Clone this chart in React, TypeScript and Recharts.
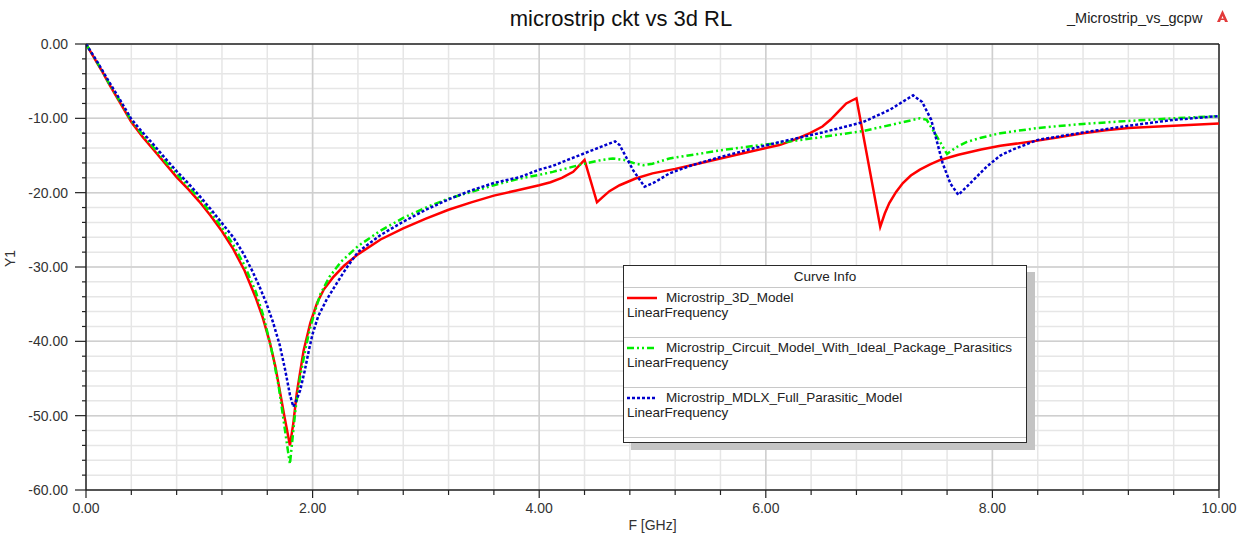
import { CartesianGrid, Line, LineChart, ReferenceLine, XAxis, YAxis } from "recharts";

// F [GHz] / dB points, one pair of arrays per curve
const model3dFreq = [
  0, 0.05, 0.1, 0.15, 0.2, 0.3, 0.4, 0.5, 0.6, 0.7, 0.8, 0.9, 1.0, 1.1, 1.2, 1.3, 1.4, 1.5, 1.56, 1.62, 1.67,
  1.71, 1.75, 1.8, 1.83, 1.86, 1.92, 1.98, 2.04, 2.1, 2.18, 2.28, 2.4, 2.6, 2.8, 3.0, 3.2, 3.4, 3.6, 3.8, 4.0,
  4.1, 4.2, 4.3, 4.4, 4.51, 4.56, 4.62, 4.71, 4.85, 5.0, 5.2, 5.4, 5.6, 5.8, 6.0, 6.12, 6.25, 6.39, 6.5,
  6.57, 6.64, 6.71, 6.76, 6.8, 7.01, 7.05, 7.09, 7.15, 7.21, 7.28, 7.36, 7.45, 7.54, 7.7, 7.9, 8.07, 8.4,
  8.6, 8.8, 9.0, 9.2, 9.6, 10,
];
const model3dDb = [
  0, -1.3, -2.6, -3.9, -5.3, -7.9, -10.5, -12.5, -14.3, -16.1, -17.9, -19.5, -21.2, -23.1, -25.2, -27.6,
  -30.5, -34.2, -36.8, -40.0, -43.3, -46.6, -50.0, -54.0, -51.0, -47.0, -41.3, -37.5, -34.8, -33.0, -31.4,
  -29.8, -28.3, -26.3, -24.8, -23.5, -22.3, -21.3, -20.4, -19.7, -19.0, -18.6, -18.0, -17.2, -15.6, -21.3,
  -20.6, -19.8, -19.0, -18.1, -17.4, -16.8, -16.1, -15.4, -14.7, -14.0, -13.6, -12.9, -12.0, -11.1, -10.2,
  -9.1, -8.0, -7.6, -7.3, -24.6, -22.8, -21.4, -19.9, -18.7, -17.7, -16.9, -16.2, -15.6, -14.9, -14.2,
  -13.7, -13.0, -12.5, -12.0, -11.6, -11.3, -11.0, -10.7,
];

const circuitFreq = [
  0, 0.1, 0.2, 0.3, 0.4, 0.5, 0.6, 0.7, 0.8, 0.9, 1.0, 1.1, 1.2, 1.3, 1.4, 1.5, 1.57, 1.64, 1.7, 1.74, 1.78,
  1.8, 1.82, 1.85, 1.89, 1.94, 1.98, 2.03, 2.07, 2.15, 2.25, 2.4, 2.6, 2.8, 3.0, 3.2, 3.4, 3.6, 3.83, 4.0,
  4.12, 4.3, 4.4, 4.55, 4.65, 4.75, 4.85, 4.92, 5.0, 5.15, 5.4, 5.6, 5.9, 6.12, 6.5, 6.86, 7.1, 7.3, 7.36,
  7.42, 7.5, 7.6, 7.68, 7.77, 7.9, 8.07, 8.4, 8.8, 9.2, 9.6, 10,
];
const circuitDb = [
  0, -2.5, -5.2, -7.7, -10.3, -12.2, -14.0, -15.8, -17.5, -19.1, -20.8, -22.7, -24.7, -27.0, -29.8, -33.4,
  -36.8, -41.3, -46.0, -50.2, -54.5, -56.5, -53.5, -49.0, -44.8, -40.8, -38.1, -35.5, -33.6, -31.3, -29.3,
  -27.2, -25.1, -23.4, -22.0, -20.8, -19.9, -19.0, -18.1, -17.6, -17.2, -16.5, -16.1, -15.6, -15.4, -15.6,
  -16.1, -16.3, -16.1, -15.4, -14.8, -14.3, -13.7, -13.3, -12.5, -11.7, -10.9, -10.2, -10.0, -10.2, -12.2,
  -14.8, -13.9, -13.2, -12.6, -12.0, -11.3, -10.75, -10.35, -10.0, -9.7,
];

const mdlxFreq = [
  0, 0.1, 0.2, 0.3, 0.4, 0.5, 0.6, 0.7, 0.8, 0.9, 1.0, 1.1, 1.2, 1.3, 1.39, 1.47, 1.53, 1.59, 1.65, 1.71,
  1.76, 1.8, 1.83, 1.86, 1.89, 1.93, 1.97, 2.0, 2.05, 2.12, 2.2, 2.3, 2.4, 2.6, 2.8, 3.0, 3.2, 3.4, 3.6,
  3.83, 4.0, 4.12, 4.25, 4.4, 4.55, 4.67, 4.71, 4.77, 4.83, 4.93, 5.02, 5.15, 5.35, 5.6, 5.9, 6.12, 6.5,
  6.86, 7.1, 7.3, 7.38, 7.46, 7.56, 7.63, 7.7, 7.8, 7.95, 8.07, 8.18, 8.4, 8.8, 9.2, 9.6, 10,
];
const mdlxDb = [
  0, -2.4, -5.0, -7.5, -10.1, -11.9, -13.6, -15.4, -17.1, -18.7, -20.4, -22.2, -24.1, -26.0, -28.2, -30.6,
  -32.6, -34.8, -37.4, -40.5, -44.0, -47.2, -48.8, -47.8, -46.6, -44.0, -41.0, -39.0, -36.6, -34.5, -32.5,
  -30.1, -28.0, -25.7, -23.9, -22.3, -20.9, -19.7, -18.7, -17.9, -16.9, -16.4, -15.6, -14.7, -13.8, -13.1,
  -13.6, -15.3, -17.0, -19.2, -18.6, -17.4, -16.3, -15.2, -14.0, -13.2, -11.9, -10.5, -8.8, -6.9, -7.8,
  -10.2, -16.0, -18.8, -20.3, -18.8, -16.5, -15.0, -14.2, -12.9, -11.9, -11.0, -10.2, -9.7,
];

const xTicks = [
  0, 0.4, 0.8, 1.2, 1.6, 2, 2.4, 2.8, 3.2, 3.6, 4, 4.4, 4.8, 5.2, 5.6, 6, 6.4, 6.8, 7.2, 7.6, 8, 8.4, 8.8,
  9.2, 9.6, 10,
];
const yTicks = [
  0, -2, -4, -6, -8, -10, -12, -14, -16, -18, -20, -22, -24, -26, -28, -30, -32, -34, -36, -38, -40, -42,
  -44, -46, -48, -50, -52, -54, -56, -58, -60,
];
const xMajor = [2, 4, 6, 8];
const yMajor = [-10, -20, -30, -40, -50];

const curveNames = [
  "Microstrip_3D_Model",
  "Microstrip_Circuit_Model_With_Ideal_Package_Parasitics",
  "Microstrip_MDLX_Full_Parasitic_Model",
];

const toPoints = (freq: number[], db: number[]) => freq.map((f, i) => ({ f, db: db[i] }));

const font = "'Liberation Sans', Arial, sans-serif";
const isMajor = (v: number, step: number) => Math.abs(v / step - Math.round(v / step)) < 1e-6;

const XTick = (props: any) => {
  const { x, y, payload } = props;
  const major = isMajor(payload.value, 2);
  return (
    <g>
      <line x1={x} x2={x} y1={y} y2={y + (major ? 8 : 5)} stroke="#222" strokeWidth={1.2} />
      {major && (
        <text x={x} y={y + 23} textAnchor="middle" fontSize={14} fill="#333" fontFamily={font}>
          {payload.value.toFixed(2)}
        </text>
      )}
    </g>
  );
};

const YTick = (props: any) => {
  const { x, y, payload } = props;
  const major = isMajor(payload.value, 10);
  return (
    <g>
      <line x1={x} x2={x - (major ? 11 : 4)} y1={y} y2={y} stroke="#222" strokeWidth={1.2} />
      {major && (
        <text x={x - 18} y={y + 5} textAnchor="end" fontSize={14} fill="#333" fontFamily={font}>
          {payload.value.toFixed(2)}
        </text>
      )}
    </g>
  );
};

const series = [
  { name: curveNames[0], data: toPoints(model3dFreq, model3dDb), color: "#ff0000", dash: undefined },
  { name: curveNames[1], data: toPoints(circuitFreq, circuitDb), color: "#00ee00", dash: "7 3 2 3 2 3" },
  { name: curveNames[2], data: toPoints(mdlxFreq, mdlxDb), color: "#0000cc", dash: "3 2" },
];

function CurveInfo() {
  return (
    <div
      style={{
        position: "absolute",
        left: 623,
        top: 265,
        width: 402,
        height: 176,
        background: "#fff",
        border: "1.5px solid #2a2a2a",
        boxShadow: "8px 7px 0 #c4c4c4",
        fontFamily: font,
        fontSize: 13.5,
        color: "#222",
      }}
    >
      <div
        style={{
          height: 21,
          lineHeight: "21px",
          textAlign: "center",
          borderBottom: "1px solid #c8c8c8",
        }}
      >
        Curve Info
      </div>
      {series.map((s) => (
        <div key={s.name} style={{ position: "relative", height: 49, borderBottom: "1px solid #c8c8c8" }}>
          <svg style={{ position: "absolute", left: 3, top: 6 }} width={30} height={8}>
            <line x1={0} x2={30} y1={4} y2={4} stroke={s.color} strokeWidth={2.5} strokeDasharray={s.dash} />
          </svg>
          <div style={{ position: "absolute", left: 42, top: 2, lineHeight: "16px", whiteSpace: "nowrap" }}>
            {s.name}
          </div>
          <div style={{ position: "absolute", left: 3, top: 17, lineHeight: "16px" }}>LinearFrequency</div>
        </div>
      ))}
    </div>
  );
}

export default function App() {
  return (
    <div style={{ position: "absolute", left: 0, top: 0, width: 1244, height: 537, background: "#fff" }}>
      <div
        style={{
          position: "absolute",
          left: 0,
          top: 6,
          width: 1242,
          textAlign: "center",
          fontFamily: font,
          fontSize: 22,
          lineHeight: "26px",
          color: "#111",
        }}
      >
        microstrip ckt vs 3d RL
      </div>
      <div
        style={{
          position: "absolute",
          left: 1067,
          top: 9,
          fontFamily: font,
          fontSize: 14.5,
          lineHeight: "18px",
          color: "#222",
        }}
      >
        _Microstrip_vs_gcpw
      </div>
      <svg style={{ position: "absolute", left: 1217, top: 10 }} width={11} height={12}>
        <polygon points="5.5,0 11,12 8,12 5.5,6 3,12 0,12" fill="#e23a3a" />
        <rect x={2.5} y={8.5} width={6} height={1.5} fill="#e23a3a" />
      </svg>

      <LineChart
        width={1244}
        height={537}
        margin={{ top: 44, right: 25, bottom: 0, left: 0 }}
        style={{ position: "absolute", left: 0, top: 0 }}
      >
        <CartesianGrid stroke="#e6e6e6" strokeWidth={1.5} />
        <XAxis
          type="number"
          dataKey="f"
          domain={[0, 10]}
          ticks={xTicks}
          interval={0}
          height={47}
          tickSize={0}
          tickMargin={0}
          tick={<XTick />}
          axisLine={{ stroke: "#222", strokeWidth: 1.5 }}
          allowDataOverflow
          label={{ value: "F [GHz]", position: "insideBottom", offset: 7, fontSize: 14, fill: "#333", fontFamily: font }}
        />
        <YAxis
          type="number"
          domain={[-60, 0]}
          ticks={yTicks}
          interval={0}
          width={86}
          tickSize={0}
          tickMargin={0}
          tick={<YTick />}
          axisLine={{ stroke: "#222", strokeWidth: 1.5 }}
          allowDataOverflow
          label={{ value: "Y1", angle: -90, position: "insideLeft", offset: 10, fontSize: 14, fill: "#333", fontFamily: font }}
        />
        {xMajor.map((v) => (
          <ReferenceLine key={`x${v}`} x={v} stroke="#cfcfcf" strokeWidth={1.5} />
        ))}
        {yMajor.map((v) => (
          <ReferenceLine key={`y${v}`} y={v} stroke="#cfcfcf" strokeWidth={1.5} />
        ))}
        <ReferenceLine y={0} stroke="#222" strokeWidth={1.5} />
        <ReferenceLine x={10} stroke="#222" strokeWidth={1.5} />
        {series.map((s) => (
          <Line
            key={s.name}
            data={s.data}
            dataKey="db"
            type="linear"
            stroke={s.color}
            strokeWidth={2.5}
            strokeDasharray={s.dash}
            dot={false}
            activeDot={false}
            isAnimationActive={false}
          />
        ))}
      </LineChart>
      <CurveInfo />
    </div>
  );
}
